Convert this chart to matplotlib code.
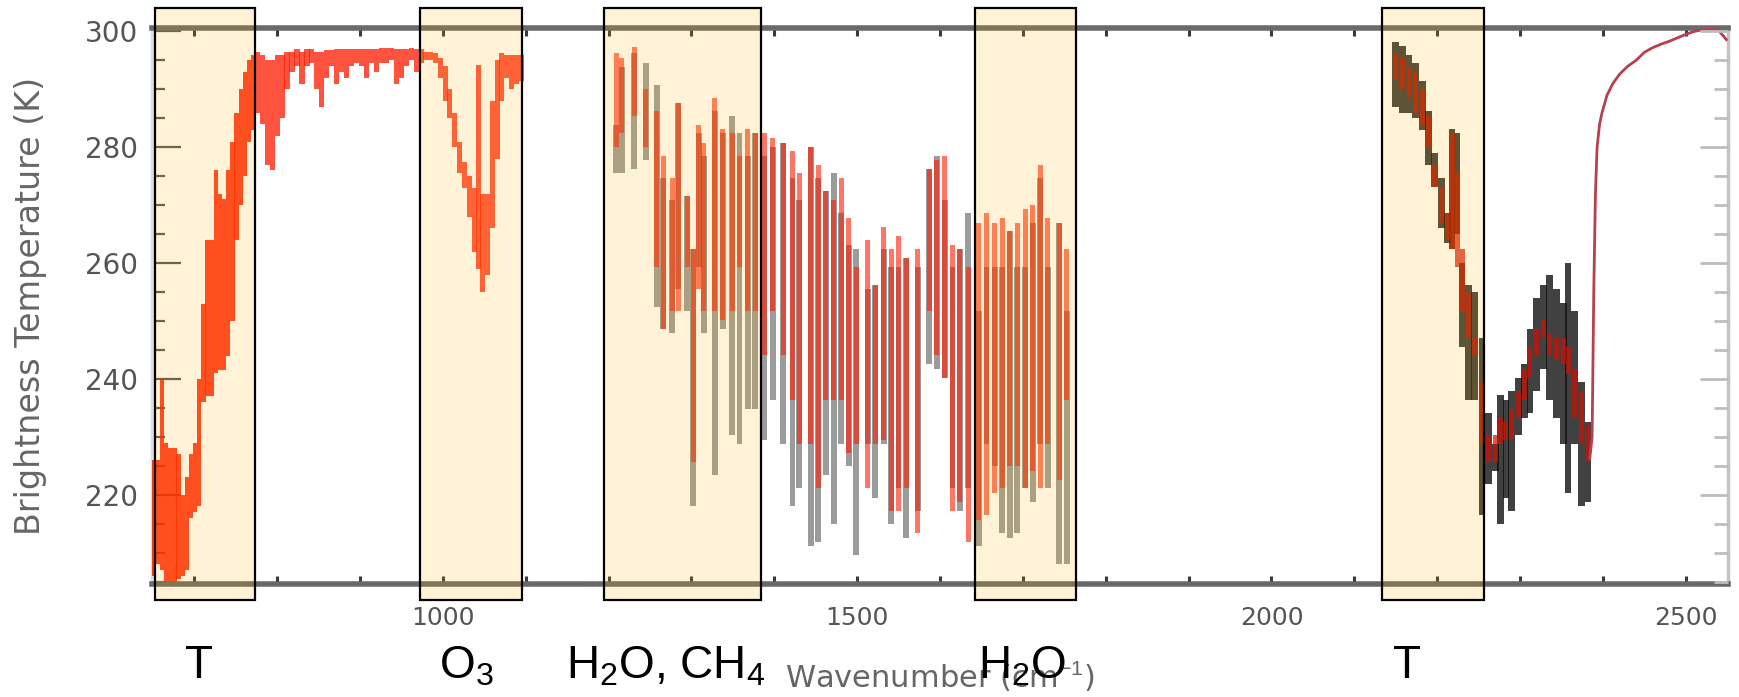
import matplotlib
matplotlib.use("Agg")
import numpy as np
import matplotlib.pyplot as plt
from matplotlib.patches import Rectangle
from matplotlib.ticker import MultipleLocator

plt.rcParams["mathtext.fontset"] = "custom"
plt.rcParams["mathtext.rm"] = "Liberation Sans"
plt.rcParams["mathtext.it"] = "Liberation Sans"
plt.rcParams["mathtext.default"] = "rm"

# ---------------- spectra (brightness temperature ranges per channel, K) ----------------
# 15 um CO2 band
lw_wn = [651, 656, 661, 666, 671, 676, 681, 686, 691, 696, 701, 706, 711, 716,
         721, 726, 731, 736, 741, 746, 751, 756, 761, 766, 771]
lw_red_lo = [206, 208, 207, 205, 205, 205, 205.5, 206, 207, 216, 217, 218, 236, 237,
             237, 241, 241.5, 241.5, 244, 250, 264, 270, 275, 281, 283]
lw_red_hi = [226, 226, 240, 229, 228, 228, 227, 220, 223, 227, 229, 240, 253, 264,
             264, 276, 272, 271, 276, 281, 286, 290, 293, 295, 296]

# atmospheric window
win_wn = [776, 782, 788, 794, 800, 806, 812, 818, 824, 830, 836, 842, 848, 854,
          860, 866, 872, 878, 884, 890, 896, 902, 908, 914, 920, 926, 932, 938,
          944, 950, 956, 962, 968, 974]
win_red_lo = [286, 284, 277, 276, 282, 285, 290, 293, 294, 291, 294, 294.5, 290, 287,
              292, 294, 291, 293, 292, 294, 294.5, 294, 292, 294.5, 293, 294.5, 294.5, 295,
              291, 292, 294, 295, 293, 294.5]
win_red_hi = [296.5, 296, 295, 295, 296, 296, 296.5, 296.5, 297, 296.5, 297, 297, 296.5, 296.5,
              296.8, 296.8, 297, 297, 297, 297, 297, 297, 297, 297, 297, 297.2, 297.2, 297.2,
              297, 297, 297, 297.2, 297, 297]

# 9.6 um O3 band
o3_wn = [979, 985, 991, 997, 1003, 1008, 1014, 1020, 1026, 1032, 1038, 1043, 1048,
         1054, 1060, 1066, 1071, 1077, 1083, 1089, 1095]
o3_red_lo = [295, 295, 294.5, 292, 288, 285, 280, 275.5, 273, 268, 262, 259, 255,
             258, 266, 278, 288, 292, 290, 291, 291.5]
o3_red_hi = [296.5, 296.5, 296.2, 295.5, 294, 290, 286, 281, 277.5, 275, 273, 294.2, 272,
             272, 288, 295, 296.2, 296, 296, 296, 296]

# 6.3 um H2O band
h2o_wn = [1209, 1216, 1231, 1245, 1258, 1266, 1277, 1284, 1295, 1302, 1309, 1315,
          1328, 1338, 1349, 1358, 1368, 1377, 1388, 1398, 1411, 1422, 1430, 1444,
          1453, 1462, 1472, 1481, 1490, 1499, 1513, 1522, 1532, 1541, 1550, 1559,
          1573, 1587, 1596, 1606, 1615, 1624, 1634, 1647, 1656, 1666, 1675, 1684,
          1693, 1703, 1712, 1721, 1730, 1744, 1753]
h2o_red_lo = [280.1, 282.4, 285.4, 280, 259.4, 248.7, 251.7, 251.7, 259.4, 225.7, 255.5, 251.7,
              251.7, 250.2, 251.7, 259.4, 251.7, 251.7, 244.1, 251.7, 244.1, 236.4, 228.7, 228.7,
              221.1, 236.4, 236.4, 236.4, 227.2, 228.7, 221.1, 228.7, 229.5, 217.2, 217.2, 221.1,
              213.4, 251.7, 244.1, 240.2, 217.2, 218.7, 211.9, 215.7, 216.5, 220.3, 221.1, 224.9,
              224.9, 221.1, 224.1, 221.1, 228.7, 222.6, 236.4]
h2o_red_hi = [296.2, 295.4, 297.3, 290, 286.2, 278.5, 274.7, 287.7, 271.6, 262.4, 283.9, 280.8,
              288.5, 283.1, 282.4, 278.5, 283.1, 282.4, 282.4, 281.6, 280.8, 279.3, 275.5, 280.1,
              277, 272.4, 270.9, 274.7, 267.8, 259.4, 264, 256.3, 266.3, 262.4, 264.7, 260.9,
              262.4, 276.2, 277.8, 278.5, 263.2, 262.4, 259.4, 267, 268.6, 267, 267.8, 265.5,
              267, 269.3, 270.1, 277, 267.8, 267, 262.4]
h2o_blk_lo = [275.5, 275.5, 276.2, 277.8, 252.5, 248.7, 247.9, 255.5, 251.7, 218, 259.4, 247.9,
              223.4, 248.7, 230.3, 228.7, 234.9, 234.9, 229.5, 236.4, 228.7, 218, 221.1, 211.1,
              211.8, 223.4, 214.9, 228.7, 224.9, 209.6, 228.7, 219.5, 228.7, 214.9, 221.1, 212.6,
              217.2, 242.5, 241.7, 240.2, 221.1, 217.2, 221.1, 211.1, 228.7, 224.9, 213.4, 212.6,
              213.4, 221.1, 218.7, 228.7, 221.1, 208.1, 208.1]
h2o_blk_hi = [283.9, 293.9, 296.2, 294.6, 290.8, 274.7, 270.9, 287.7, 271.6, 262.4, 282.4, 278.5,
              286.2, 282.4, 285.4, 282.4, 278.5, 282.4, 278.5, 280.1, 280.8, 274.7, 270.9, 280.1,
              274.7, 272.4, 275.5, 268.6, 263.2, 262.4, 255.5, 256.3, 262.4, 259.4, 259.4, 260.9,
              259.4, 276.2, 278.5, 270.9, 259.4, 262.4, 268.6, 251.7, 259.4, 259.4, 259.4, 265.5,
              259.4, 259.4, 267, 274.7, 259.4, 267, 251.7]

# 4.3 um CO2 band
sw_wn = [2150, 2158, 2166, 2174, 2182, 2190, 2197, 2205, 2212, 2218, 2224, 2230, 2238,
         2245, 2254, 2262, 2270, 2276, 2283, 2290, 2298, 2305, 2312, 2320, 2328, 2336,
         2344, 2352, 2358, 2366, 2374, 2382]
sw_red_lo = [291.6, 290, 288.5, 286, 283.9, 280.1, 273.2, 267, 264, 262.4, 259.4, 251.7, 247.1,
             244.1, 228.7, 225.7, 225.7, 228.7, 229.5, 229.5, 233.3, 236.4, 240.2, 244.1, 247.1, 244.1,
             243.3, 242.5, 240.9, 233.3, 228.7, 225.7]
sw_red_hi = [296.2, 295.4, 293.9, 293, 290, 285.4, 277, 273.2, 268.6, 282.4, 275.5, 262.4, 254.8,
             247.1, 239.5, 230.3, 230.3, 233.3, 232.6, 234.9, 237.9, 241.7, 245.6, 248.7, 250.2, 248,
             247.1, 247.1, 245.6, 241.7, 238, 231.8]
sw_blk_lo = [287, 286, 286, 285, 283, 277, 273.2, 266, 263.5, 262.4, 265, 245.6, 236.4,
             236.4, 216.5, 221.8, 224.1, 215, 219.5, 217.2, 230.3, 233.3, 234.1, 238, 241.7, 236.4,
             233.3, 228.7, 220.3, 228.7, 218, 218.7]
sw_blk_hi = [298.1, 297.5, 296, 294.6, 291.5, 286.2, 279, 274.7, 268.6, 283.1, 282.4, 260.1, 256.3,
             255, 247.1, 234.1, 228.7, 237.2, 236.4, 237.9, 240.2, 242.5, 248.7, 254, 256.3, 257.9,
             255.5, 253.2, 260.1, 251.7, 239.5, 232.6]

# shortwave edge of the 4.3 um band
edge_wn = [2384, 2387, 2389, 2391, 2393, 2396, 2399, 2405, 2412, 2420, 2430, 2440, 2450,
           2460, 2470, 2480, 2490, 2500, 2510, 2520, 2530, 2538, 2545, 2550]
edge_tb = [226, 230, 255, 272, 280, 284, 286, 289, 291, 292.6, 294, 295, 296.4,
           297.2, 297.8, 298.3, 298.9, 299.5, 300, 300.3, 300.5, 300.4, 299.3, 298.4]

# highlighted sounding channels
band_edges = [(652.6, 773), (973, 1095), (1194, 1384), (1642, 1764), (2133, 2256)]
band_names = ["T", "O$_3$", "H$_2$O, CH$_4$", "H$_2$O", "T"]

x_range = (649, 2551)
y_range = (204.6, 300.6)

# ---------------- figure ----------------
W, H = 1740, 697
fig = plt.figure(figsize=(W / 100, H / 100), dpi=100)
ax = fig.add_axes([152 / W, 113 / H, (1728 - 152) / W, (584 - 28) / H])
ax.set_xlim(*x_range)
ax.set_ylim(*y_range)


def ranges(x, lo, hi, width, color, alpha, z):
    lo = np.asarray(lo, float)
    hi = np.asarray(hi, float)
    ax.bar(x, hi - lo, bottom=lo, width=width, color=color, alpha=alpha,
           linewidth=0, zorder=z)


BLACK = "#111111"
RED = "#ff1a00"

# black ensemble
ranges(h2o_wn, h2o_blk_lo, h2o_blk_hi, 7.0, BLACK, 0.42, 2)
ranges(sw_wn, sw_blk_lo, sw_blk_hi, 8.2, BLACK, 0.8, 2)
# red ensemble
ranges(lw_wn, lw_red_lo, lw_red_hi, 5.2, RED, 0.85, 3)
ranges(win_wn, win_red_lo, win_red_hi, 6.2, RED, 0.75, 3)
ranges(o3_wn, o3_red_lo, o3_red_hi, 5.4, RED, 0.75, 3)
ranges(h2o_wn, h2o_red_lo, h2o_red_hi, 6.0, RED, 0.6, 3)
ranges(sw_wn, sw_red_lo, sw_red_hi, 6.0, "#d01000", 0.7, 3)
ax.plot(edge_wn, edge_tb, color="#b8404e", lw=2.0, zorder=3, solid_capstyle="butt")

# highlighted channel boxes (drawn above everything so they tint the curves)
ybox = (201.85, 304.05)
for x0, x1 in band_edges:
    ax.add_patch(Rectangle((x0, ybox[0]), x1 - x0, ybox[1] - ybox[0],
                           facecolor=(1.0, 0.706, 0.0, 0.16), edgecolor="black",
                           linewidth=1.6, clip_on=False, zorder=6))

# spines
for s in ("top", "bottom"):
    ax.spines[s].set_color("#6a6a6a")
    ax.spines[s].set_linewidth(4.0)
ax.spines["left"].set_color("#dedede")
ax.spines["left"].set_linewidth(2.5)
ax.spines["right"].set_color("#c4c4c4")
ax.spines["right"].set_linewidth(2.5)

# ticks
ax.xaxis.set_major_locator(MultipleLocator(500))
ax.xaxis.set_minor_locator(MultipleLocator(100))
ax.yaxis.set_major_locator(MultipleLocator(20))
ax.yaxis.set_minor_locator(MultipleLocator(5))
ax.tick_params(axis="x", which="both", direction="in", top=True, bottom=True,
               color="#3a3a3a", width=2.2, length=6)
ax.tick_params(axis="x", which="major", labelsize=18, labelcolor="#555555", pad=16)
ax.tick_params(axis="y", which="both", direction="in", left=True, right=False,
               color="#555555", width=1.6)
ax.tick_params(axis="y", which="major", length=21, labelsize=20, labelcolor="#555555", pad=10)
ax.tick_params(axis="y", which="minor", length=9)

axr = ax.twinx()
axr.set_ylim(*y_range)
axr.yaxis.set_major_locator(MultipleLocator(20))
axr.yaxis.set_minor_locator(MultipleLocator(5))
axr.tick_params(axis="y", which="both", direction="in", right=True, labelright=False,
                color="#bdbdbd", width=2.0)
axr.tick_params(axis="y", which="major", length=20)
axr.tick_params(axis="y", which="minor", length=10)
for s in axr.spines.values():
    s.set_visible(False)

# axis labels
ax.set_xlabel("Wavenumber (cm$^{-1}$)", fontsize=22, color="#666666")
ax.xaxis.set_label_coords(0.5, -0.135)
ax.set_ylabel("Brightness Temperature (K)", fontsize=24, color="#666666", va="center")
ax.yaxis.set_label_coords(-0.077, 0.5)

# band annotations below the axis
name_pos = [(199, "center"), (439, "left"), (566, "left"), (978, "left"), (1407, "center")]
for (px, ha), name in zip(name_pos, band_names):
    fig.text(px / W, (H - 678) / H, name, fontsize=33, family="Liberation Sans",
             ha=ha, va="baseline", color="black")

fig.savefig("out.png", dpi=100)
